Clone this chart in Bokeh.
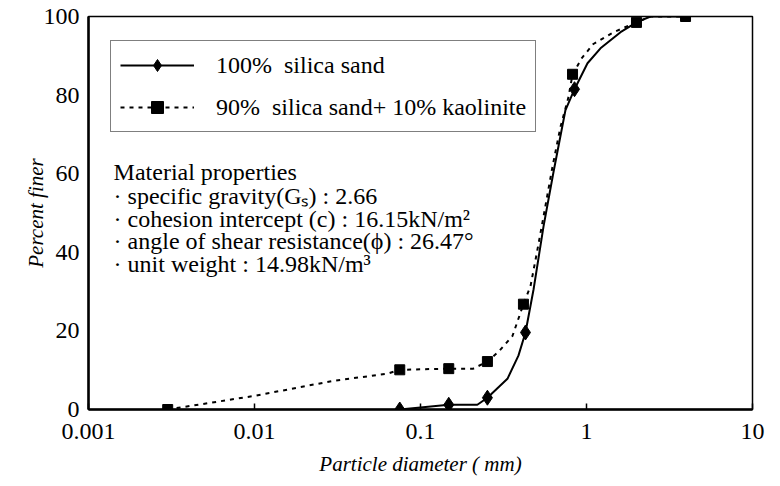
from bokeh.plotting import figure
from bokeh.models import Legend, LegendItem, Label, FixedTicker, Range1d
from bokeh.embed import file_html
from bokeh.resources import INLINE

# ---- data ----
# marker points
sand_diam = [0.075, 0.148, 0.253, 0.429, 0.847]
sand_pct = [0.0, 1.2, 3.0, 19.6, 81.5]
mix_diam = [0.003, 0.075, 0.148, 0.253, 0.417, 0.824, 2.0, 3.95]
mix_pct = [0.0, 10.1, 10.4, 12.2, 26.8, 85.3, 98.5, 100.0]

# drawn curves
sand_curve_diam = [0.075, 0.148, 0.22, 0.253, 0.334, 0.389, 0.429, 0.48, 0.551,
                   0.632, 0.747, 0.847, 1.014, 1.214, 1.603, 2.0, 2.43, 3.95]
sand_curve_pct = [0.0, 1.2, 1.2, 3.0, 7.8, 13.7, 19.6, 30.6, 46.6,
                  60.3, 76.2, 81.5, 88.1, 91.9, 96.0, 98.5, 100.0, 100.0]
mix_curve_diam = [0.003, 0.0101, 0.0299, 0.0632, 0.075, 0.148, 0.208, 0.253, 0.295,
                  0.358, 0.417, 0.46, 0.507, 0.551, 0.624, 0.697, 0.779, 0.824,
                  0.94, 1.1, 1.454, 2.0, 2.43, 3.95]
mix_curve_pct = [0.0, 3.5, 7.3, 9.1, 10.1, 10.4, 10.4, 12.2, 14.7,
                 18.7, 26.8, 31.4, 40.8, 49.1, 61.8, 71.9, 79.5, 85.3,
                 89.5, 93.0, 96.0, 98.5, 100.0, 100.0]

x_ticks = [0.001, 0.01, 0.1, 1, 10]
x_tick_labels = ["0.001", "0.01", "0.1", "1", "10"]
y_ticks = [0, 20, 40, 60, 80, 100]

legend_labels = ["100%  silica sand", "90%  silica sand+ 10% kaolinite"]
props_lines = [
    "Material properties",
    "\u00b7 specific gravity(G\u209b) : 2.66",
    "\u00b7 cohesion intercept (c) : 16.15kN/m\u00b2",
    "\u00b7 angle of shear resistance(\u03d5) : 26.47\u00b0",
    "\u00b7 unit weight : 14.98kN/m\u00b3",
]
props_y = [60.5, 54.4, 48.6, 42.8, 37.0]

FONT = "Liberation Serif"

p = figure(width=776, height=478, x_axis_type="log",
           x_range=Range1d(0.001, 10), y_range=Range1d(0, 100),
           output_backend="svg", toolbar_location=None,
           min_border_left=88, min_border_right=24,
           min_border_top=16, min_border_bottom=67)
p.xgrid.visible = False
p.ygrid.visible = False
p.outline_line_color = "black"
p.outline_line_width = 1.5
p.background_fill_color = "white"
p.border_fill_color = "white"

# axes
p.xaxis.ticker = FixedTicker(ticks=x_ticks)
p.xaxis.major_label_overrides = dict(zip(x_ticks, x_tick_labels))
p.yaxis.ticker = FixedTicker(ticks=y_ticks)
for ax in (p.xaxis[0], p.yaxis[0]):
    ax.axis_line_width = 2.5
    ax.axis_line_color = "black"
    ax.minor_tick_line_color = None
    ax.major_label_text_font = FONT
    ax.major_label_text_font_size = "24px"
    ax.major_label_text_color = "black"
    ax.axis_label_text_font = FONT
    ax.axis_label_text_font_style = "italic"
    ax.axis_label_text_font_size = "21px"
    ax.axis_label_text_color = "black"
p.xaxis.major_tick_in = 6
p.xaxis.major_tick_out = 0
p.xaxis.major_tick_line_width = 1.5
p.xaxis.major_label_standoff = 14
p.xaxis.axis_label_standoff = 10
p.yaxis.major_tick_line_color = None
p.yaxis.major_label_standoff = 3
p.yaxis.axis_label_standoff = -7
p.xaxis.axis_label = "Particle diameter ( mm)"
p.yaxis.axis_label = "Percent finer"

# series
sand_line = p.line(sand_curve_diam, sand_curve_pct, line_color="black", line_width=2)
mix_line = p.line(mix_curve_diam, mix_curve_pct, line_color="black", line_width=2,
                  line_dash="4 5")
sand_mk = p.scatter(sand_diam, sand_pct, marker="diamond", size=15,
                    fill_color="black", line_color="black")
mix_mk = p.scatter(mix_diam, mix_pct, marker="square", size=10,
                   fill_color="black", line_color="black")

legend = Legend(items=[
    LegendItem(label=legend_labels[0], renderers=[sand_line, sand_mk]),
    LegendItem(label=legend_labels[1], renderers=[mix_line, mix_mk]),
], location=(22, 277))
legend.border_line_color = "black"
legend.border_line_width = 1.5
legend.background_fill_alpha = 1
legend.label_text_font = FONT
legend.label_text_font_size = "24px"
legend.label_text_color = "black"
legend.glyph_width = 74
legend.glyph_height = 30
legend.label_height = 30
legend.spacing = 12
legend.padding = 9
legend.margin = 0
legend.label_standoff = 22
p.add_layout(legend, "center")

for txt, yy in zip(props_lines, props_y):
    p.add_layout(Label(x=0.001416, y=yy, text=txt, text_font=FONT,
                       text_font_size="24px", text_baseline="middle",
                       text_color="black"))

open("out.html", "w").write(file_html(p, INLINE))
